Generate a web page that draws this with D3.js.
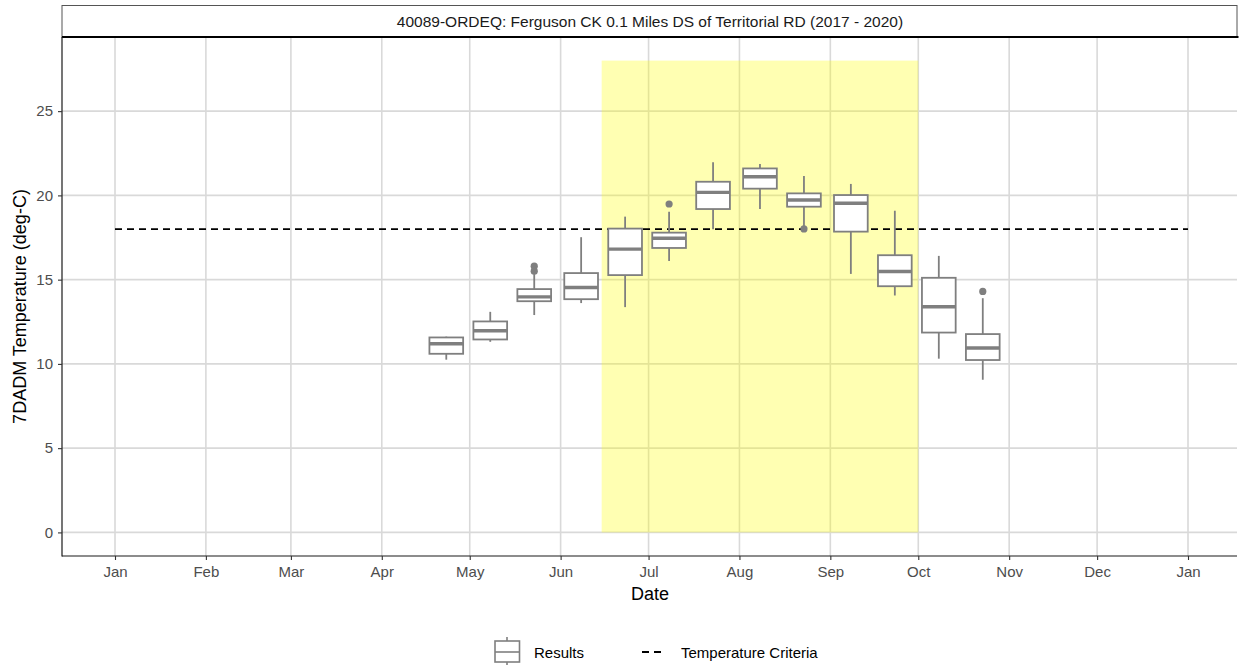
<!DOCTYPE html>
<html>
<head>
<meta charset="utf-8">
<script src="https://cdn.jsdelivr.net/npm/d3@7"></script>
<style>
  html, body { margin: 0; padding: 0; background: #fff; }
  svg { display: block; font-family: "Liberation Sans", Arial, sans-serif; }
</style>
</head>
<body>
<svg id="chart" width="1239" height="665"></svg>
<script>
// ---------- data ----------
const title = "40089-ORDEQ: Ferguson CK 0.1 Miles DS of Territorial RD (2017 - 2020)";
const boxDates = ["2020-04-23","2020-05-08","2020-05-23","2020-06-08","2020-06-23","2020-07-08","2020-07-23",
                  "2020-08-08","2020-08-23","2020-09-08","2020-09-23","2020-10-08","2020-10-23"];
const whiskerLow  = [10.25, 11.31, 12.90, 13.61, 13.37, 16.11, 17.99, 19.19, 18.15, 15.34, 14.06, 10.31,  9.06];
const q1          = [10.60, 11.45, 13.72, 13.84, 15.27, 16.88, 19.19, 20.40, 19.33, 17.85, 14.61, 11.86, 10.23];
const medians     = [11.20, 11.97, 13.98, 14.53, 16.81, 17.46, 20.18, 21.11, 19.73, 19.53, 15.48, 13.39, 10.94];
const q3          = [11.57, 12.52, 14.44, 15.39, 18.03, 17.79, 20.81, 21.60, 20.12, 20.02, 16.45, 15.11, 11.77];
const whiskerHigh = [11.62, 13.09, 15.33, 17.52, 18.74, 19.03, 21.96, 21.86, 21.15, 20.68, 19.09, 16.41, 13.90];
const outlierDates  = ["2020-05-23","2020-05-23","2020-07-08","2020-08-23","2020-10-23"];
const outlierValues = [15.80, 15.50, 19.49, 18.01, 14.30];
const criteriaValue = 18;
const criteriaStart = "2020-01-01", criteriaEnd = "2021-01-01";
const seasonStart = "2020-06-15", seasonEnd = "2020-10-01";
const seasonLow = 0, seasonHigh = 28;
const monthTicks = ["2020-01-01","2020-02-01","2020-03-01","2020-04-01","2020-05-01","2020-06-01","2020-07-01",
                    "2020-08-01","2020-09-01","2020-10-01","2020-11-01","2020-12-01","2021-01-01"];
const monthLabels = ["Jan","Feb","Mar","Apr","May","Jun","Jul","Aug","Sep","Oct","Nov","Dec","Jan"];
const yTicks = [0, 5, 10, 15, 20, 25];
const legendLabels = ["Results", "Temperature Criteria"];

// ---------- layout ----------
const svg = d3.select("#chart");
const P = { left: 62, right: 1237, top: 37, bottom: 556 };
const parse = d3.utcParse("%Y-%m-%d");
const d0 = parse("2020-01-01"), d1 = parse("2021-01-01");
const x = d3.scaleUtc().domain([d0, d1]).range([115, 1188]);
const yLo = 0, yHi = 28, yr = yHi - yLo;
const y = d3.scaleLinear()
  .domain([yLo - yr * 0.05, yHi + yr * 0.05])
  .range([P.bottom, P.top]);

const gridCol = "#d9d9d9";
const boxCol = "#7f7f7f";
const fontS = 15, fontT = 15.5, fontL = 18;

// strip
svg.append("rect").attr("x", P.left).attr("y", 5.5).attr("width", P.right - P.left).attr("height", P.top - 5.5)
  .attr("fill", "#fff").attr("stroke", "#555").attr("stroke-width", 1);
svg.append("text").attr("x", 650).attr("y", 21.5).attr("text-anchor", "middle")
  .attr("dominant-baseline", "central").attr("font-size", fontT).attr("fill", "#1a1a1a").text(title);

// gridlines
const grid = svg.append("g");
grid.selectAll("line.gx").data(monthTicks).join("line")
  .attr("x1", d => x(parse(d))).attr("x2", d => x(parse(d)))
  .attr("y1", P.top).attr("y2", P.bottom).attr("stroke", gridCol).attr("stroke-width", 1.6);
grid.selectAll("line.gy").data(yTicks).join("line")
  .attr("y1", d => y(d)).attr("y2", d => y(d))
  .attr("x1", P.left).attr("x2", P.right).attr("stroke", gridCol).attr("stroke-width", 1.6);

// season rectangle
svg.append("rect")
  .attr("x", x(parse(seasonStart))).attr("width", x(parse(seasonEnd)) - x(parse(seasonStart)))
  .attr("y", y(seasonHigh)).attr("height", y(seasonLow) - y(seasonHigh))
  .attr("fill", "#ffff00").attr("fill-opacity", 0.3);

// criteria line
svg.append("line")
  .attr("x1", x(parse(criteriaStart))).attr("x2", x(parse(criteriaEnd)))
  .attr("y1", y(criteriaValue)).attr("y2", y(criteriaValue))
  .attr("stroke", "#000").attr("stroke-width", 1.6).attr("stroke-dasharray", "7,5");

// boxes
const halfW = 5.75 * 86400000; // half box width in ms
const boxes = boxDates.map((d, i) => ({ d: parse(d), lo: whiskerLow[i], q1: q1[i], med: medians[i], q3: q3[i], hi: whiskerHigh[i] }));
const bg = svg.append("g");
boxes.forEach(b => {
  const cx = x(b.d), xl = x(new Date(+b.d - halfW)), xr = x(new Date(+b.d + halfW));
  bg.append("line").attr("x1", cx).attr("x2", cx).attr("y1", y(b.hi)).attr("y2", y(b.q3))
    .attr("stroke", boxCol).attr("stroke-width", 1.8);
  bg.append("line").attr("x1", cx).attr("x2", cx).attr("y1", y(b.q1)).attr("y2", y(b.lo))
    .attr("stroke", boxCol).attr("stroke-width", 1.8);
  bg.append("rect").attr("x", xl).attr("width", xr - xl).attr("y", y(b.q3)).attr("height", y(b.q1) - y(b.q3))
    .attr("fill", "#fff").attr("stroke", boxCol).attr("stroke-width", 1.8);
  bg.append("line").attr("x1", xl).attr("x2", xr).attr("y1", y(b.med)).attr("y2", y(b.med))
    .attr("stroke", boxCol).attr("stroke-width", 3.4);
});
bg.selectAll("circle").data(outlierValues).join("circle")
  .attr("cx", (d, i) => x(parse(outlierDates[i]))).attr("cy", d => y(d)).attr("r", 3.6).attr("fill", boxCol);

// axes lines
svg.append("line").attr("x1", P.left).attr("x2", P.right + 1.5).attr("y1", P.top).attr("y2", P.top)
  .attr("stroke", "#000").attr("stroke-width", 1.8);
svg.append("line").attr("x1", P.left).attr("x2", P.left).attr("y1", P.top).attr("y2", P.bottom + 0.5)
  .attr("stroke", "#1a1a1a").attr("stroke-width", 1.2);
svg.append("line").attr("x1", P.left).attr("x2", P.right).attr("y1", P.bottom).attr("y2", P.bottom)
  .attr("stroke", "#1a1a1a").attr("stroke-width", 1.2);

// y axis
const yAxis = svg.append("g").attr("transform", `translate(${P.left},0)`)
  .call(d3.axisLeft(y).tickValues(yTicks).tickSize(4).tickPadding(5));
yAxis.select(".domain").remove();
yAxis.selectAll(".tick line").attr("stroke", "#333").attr("stroke-width", 1.1);
yAxis.selectAll(".tick text").attr("font-size", fontS).attr("fill", "#4d4d4d")
  .attr("font-family", "Liberation Sans, Arial, sans-serif");

// x axis
const xAxis = svg.append("g").attr("transform", `translate(0,${P.bottom})`)
  .call(d3.axisBottom(x).tickValues(monthTicks.map(parse)).tickFormat((d, i) => monthLabels[i]).tickSize(4).tickPadding(6.5));
xAxis.select(".domain").remove();
xAxis.selectAll(".tick line").attr("stroke", "#333").attr("stroke-width", 1.1);
xAxis.selectAll(".tick text").attr("font-size", fontS).attr("fill", "#4d4d4d")
  .attr("font-family", "Liberation Sans, Arial, sans-serif");

// axis titles
svg.append("text").attr("x", 650).attr("y", 600).attr("text-anchor", "middle")
  .attr("font-size", fontL).attr("fill", "#000").text("Date");
svg.append("text").attr("transform", `translate(26,${(P.top + P.bottom) / 2 + 10}) rotate(-90)`)
  .attr("text-anchor", "middle").attr("font-size", fontL).attr("fill", "#000").text("7DADM Temperature (deg-C)");

// legend
const lg = svg.append("g");
const lx = 507, ly = 652;
lg.append("line").attr("x1", lx).attr("x2", lx).attr("y1", 637).attr("y2", 641).attr("stroke", boxCol).attr("stroke-width", 1.6);
lg.append("line").attr("x1", lx).attr("x2", lx).attr("y1", 662).attr("y2", 666).attr("stroke", boxCol).attr("stroke-width", 1.6);
lg.append("rect").attr("x", 495).attr("y", 641).attr("width", 24.5).attr("height", 21)
  .attr("fill", "#fff").attr("stroke", boxCol).attr("stroke-width", 1.6);
lg.append("line").attr("x1", 495).attr("x2", 519.5).attr("y1", ly).attr("y2", ly).attr("stroke", boxCol).attr("stroke-width", 1.6);
lg.append("text").attr("x", 534).attr("y", ly).attr("dominant-baseline", "central").attr("font-size", fontS)
  .attr("fill", "#000").text(legendLabels[0]);
lg.append("line").attr("x1", 642).attr("x2", 666).attr("y1", ly).attr("y2", ly)
  .attr("stroke", "#000").attr("stroke-width", 1.8).attr("stroke-dasharray", "7,5");
lg.append("text").attr("x", 681).attr("y", ly).attr("dominant-baseline", "central").attr("font-size", fontS)
  .attr("fill", "#000").text(legendLabels[1]);
</script>
</body>
</html>
